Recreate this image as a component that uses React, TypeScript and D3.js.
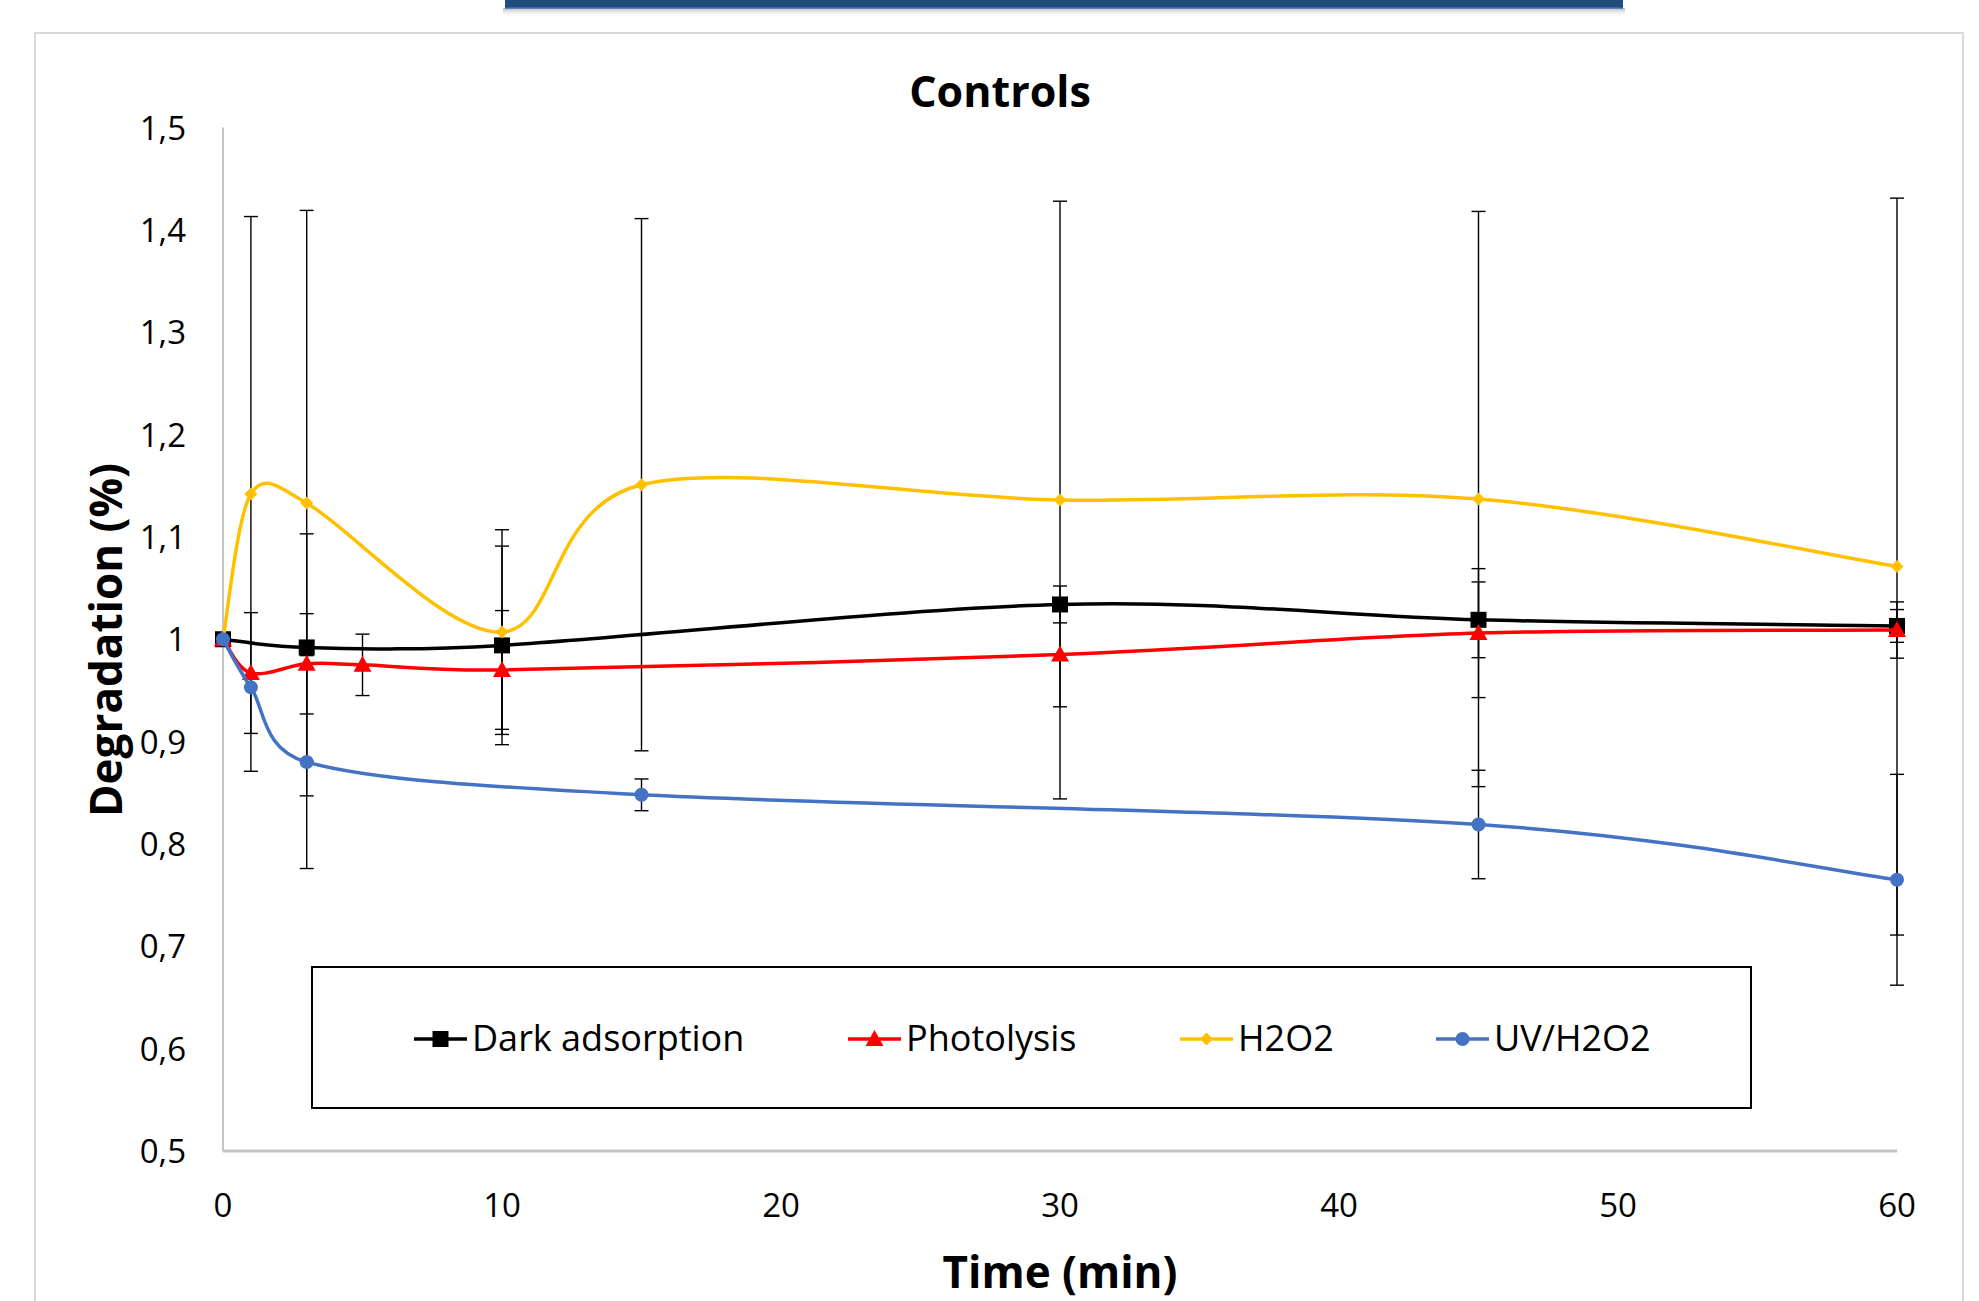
import React, { useEffect, useRef } from 'react';
import * as d3 from 'd3';

// axis ticks
const xTicks = [0, 10, 20, 30, 40, 50, 60];
const yTicks = [0.5, 0.6, 0.7, 0.8, 0.9, 1.0, 1.1, 1.2, 1.3, 1.4, 1.5];

// Dark adsorption
const darkTime = [0, 3, 10, 30, 45, 60];
const darkValue = [1.0, 0.992, 0.994, 1.034, 1.019, 1.013];
const darkError = [0, 0.111, 0.097, 0.018, 0.037, 0.016];

// Photolysis
const photoTime = [0, 1, 3, 5, 10, 30, 45, 60];
const photoValue = [1.0, 0.967, 0.976, 0.975, 0.97, 0.985, 1.006, 1.009];
const photoError = [0, 0.059, 0.049, 0.03, 0.058, 0.051, 0.063, 0.0275];

// H2O2
const h2o2Time = [0, 1, 3, 10, 15, 30, 45, 60];
const h2o2Value = [1.0, 1.142, 1.133, 1.007, 1.151, 1.136, 1.137, 1.071];
const h2o2Error = [0, 0.271, 0.286, 0.1, 0.26, 0.292, 0.281, 0.36];

// UV/H2O2
const uvTime = [0, 1, 3, 15, 45, 60];
const uvValue = [1.0, 0.953, 0.88, 0.848, 0.819, 0.765];
const uvError = [0, 0, 0.104, 0.0155, 0.053, 0.103];

const seriesNames = ['Dark adsorption', 'Photolysis', 'H2O2', 'UV/H2O2'];
const seriesColors = ['#000000', '#ff0000', '#ffc000', '#4472c4'];

// Excel-like smoothed line: bezier with 1/6 tangents, handles capped to half the chord
const smoothPath = (pts) => {
  const p = d3.path();
  p.moveTo(pts[0][0], pts[0][1]);
  const clamp = (v, lim) => {
    const len = Math.hypot(v[0], v[1]);
    return len > lim ? [(v[0] * lim) / len, (v[1] * lim) / len] : v;
  };
  for (let i = 0; i < pts.length - 1; i++) {
    const p0 = pts[i - 1] || pts[i];
    const p1 = pts[i];
    const p2 = pts[i + 1];
    const p3 = pts[i + 2] || pts[i + 1];
    const lim = Math.hypot(p2[0] - p1[0], p2[1] - p1[1]) * 0.5;
    const t1 = clamp([(p2[0] - p0[0]) / 6, (p2[1] - p0[1]) / 6], lim);
    const t2 = clamp([(p3[0] - p1[0]) / 6, (p3[1] - p1[1]) / 6], lim);
    p.bezierCurveTo(p1[0] + t1[0], p1[1] + t1[1], p2[0] - t2[0], p2[1] - t2[1], p2[0], p2[1]);
  }
  return p.toString();
};

const App = () => {
  const svgRef = useRef(null);

  useEffect(() => {
    const width = 1979;
    const height = 1301;
    const font = '"Open Sans", "Liberation Sans", sans-serif';

    const x = d3.scaleLinear().domain([0, 60]).range([223, 1897]);
    const y = d3.scaleLinear().domain([0.5, 1.5]).range([1151, 127.5]);

    const locale = d3.formatLocale({ decimal: ',', thousands: '.', grouping: [3], currency: ['', ''] });
    const fmt = locale.format('~g');

    const series = [
      { time: darkTime, value: darkValue, error: darkError, shape: 'square' },
      { time: photoTime, value: photoValue, error: photoError, shape: 'triangle' },
      { time: h2o2Time, value: h2o2Value, error: h2o2Error, shape: 'diamond' },
      { time: uvTime, value: uvValue, error: uvError, shape: 'circle' },
    ].map((s, i) => ({
      ...s,
      name: seriesNames[i],
      color: seriesColors[i],
      points: s.time.map((t, j) => ({ t, v: s.value[j], e: s.error[j] })),
    }));

    const svg = d3.select(svgRef.current);
    svg.selectAll('*').remove();
    svg.attr('width', width).attr('height', height);

    svg.append('rect').attr('width', width).attr('height', height).attr('fill', '#fff');

    // header strip at the very top with a soft shadow
    const defs = svg.append('defs');
    const grad = defs.append('linearGradient').attr('id', 'shadow').attr('x1', 0).attr('y1', 0).attr('x2', 0).attr('y2', 1);
    grad.append('stop').attr('offset', 0).attr('stop-color', '#9a9a9a').attr('stop-opacity', 0.7);
    grad.append('stop').attr('offset', 1).attr('stop-color', '#ffffff').attr('stop-opacity', 0);
    svg.append('rect').attr('x', 503).attr('y', 8).attr('width', 1122).attr('height', 9).attr('fill', 'url(#shadow)');
    svg.append('rect').attr('x', 505).attr('y', -2).attr('width', 1118).attr('height', 10).attr('fill', '#214a7d');
    svg.append('line').attr('x1', 505).attr('x2', 1623).attr('y1', 8).attr('y2', 8).attr('stroke', '#3f6fae').attr('stroke-width', 1.5);

    // chart area frame
    svg.append('rect')
      .attr('x', 35).attr('y', 33)
      .attr('width', 1928).attr('height', 1320)
      .attr('fill', 'none')
      .attr('stroke', '#d9d9d9')
      .attr('stroke-width', 2);

    // title
    svg.append('text')
      .attr('x', 1000).attr('y', 107)
      .attr('text-anchor', 'middle')
      .attr('font-family', font).attr('font-weight', 700).attr('font-size', 43)
      .text('Controls');

    // axes lines
    svg.append('line')
      .attr('x1', x(0)).attr('x2', x(0))
      .attr('y1', y(1.5)).attr('y2', y(0.5))
      .attr('stroke', '#c4c4c4').attr('stroke-width', 2);
    svg.append('line')
      .attr('x1', x(0)).attr('x2', x(60))
      .attr('y1', y(0.5)).attr('y2', y(0.5))
      .attr('stroke', '#c4c4c4').attr('stroke-width', 3);

    // y tick labels
    svg.append('g').selectAll('text')
      .data(yTicks)
      .enter()
      .append('text')
      .attr('x', 186)
      .attr('y', (d) => y(d) + 12)
      .attr('text-anchor', 'end')
      .attr('font-family', font).attr('font-size', 33)
      .attr('fill', '#000')
      .text((d) => fmt(d));

    // x tick labels
    svg.append('g').selectAll('text')
      .data(xTicks)
      .enter()
      .append('text')
      .attr('x', (d) => x(d))
      .attr('y', 1217)
      .attr('text-anchor', 'middle')
      .attr('font-family', font).attr('font-size', 33)
      .text((d) => fmt(d));

    // axis titles
    svg.append('text')
      .attr('x', (x(0) + x(60)) / 2).attr('y', 1288)
      .attr('text-anchor', 'middle')
      .attr('font-family', font).attr('font-weight', 700).attr('font-size', 44)
      .text('Time (min)');
    svg.append('text')
      .attr('transform', `translate(122,640) rotate(-90)`)
      .attr('text-anchor', 'middle')
      .attr('font-family', font).attr('font-weight', 700).attr('font-size', 44)
      .text('Degradation (%)');

    // legend box (drawn under the data, like the original)
    svg.append('rect')
      .attr('x', 312).attr('y', 967)
      .attr('width', 1439).attr('height', 141)
      .attr('fill', '#fff')
      .attr('stroke', '#000').attr('stroke-width', 2);

    // error bars
    const errG = svg.append('g');
    series.forEach((s) => {
      s.points.filter((p) => p.e > 0).forEach((p) => {
        const cx = x(p.t);
        const y1 = y(p.v + p.e);
        const y2 = y(p.v - p.e);
        errG.append('line').attr('x1', cx).attr('x2', cx).attr('y1', y1).attr('y2', y2)
          .attr('stroke', '#000').attr('stroke-width', 1.4);
        [y1, y2].forEach((yy) => {
          errG.append('line').attr('x1', cx - 7).attr('x2', cx + 7).attr('y1', yy).attr('y2', yy)
            .attr('stroke', '#000').attr('stroke-width', 1.4);
        });
      });
    });

    const marker = (g, shape, color, cx, cy) => {
      if (shape === 'square') {
        g.append('rect').attr('x', cx - 8).attr('y', cy - 8).attr('width', 16).attr('height', 16).attr('fill', color);
      } else if (shape === 'triangle') {
        g.append('path').attr('d', `M${cx},${cy - 9}L${cx + 9},${cy + 7}L${cx - 9},${cy + 7}Z`).attr('fill', color);
      } else if (shape === 'diamond') {
        g.append('path').attr('d', `M${cx},${cy - 6.5}L${cx + 6.5},${cy}L${cx},${cy + 6.5}L${cx - 6.5},${cy}Z`).attr('fill', color);
      } else {
        g.append('circle').attr('cx', cx).attr('cy', cy).attr('r', 7).attr('fill', color);
      }
    };

    // smoothed lines and markers
    series.forEach((s) => {
      const g = svg.append('g');
      g.append('path')
        .attr('d', smoothPath(s.points.map((p) => [x(p.t), y(p.v)])))
        .attr('fill', 'none')
        .attr('stroke', s.color)
        .attr('stroke-width', 3.5);
      s.points.forEach((p) => marker(g, s.shape, s.color, x(p.t), y(p.v)));
    });

    // legend entries
    const legendX = [414, 848, 1180, 1436];
    const legendY = 1039;
    series.forEach((s, i) => {
      const g = svg.append('g');
      const lx = legendX[i];
      g.append('line').attr('x1', lx).attr('x2', lx + 53).attr('y1', legendY).attr('y2', legendY)
        .attr('stroke', s.color).attr('stroke-width', 3.5);
      marker(g, s.shape, s.color, lx + 26.5, legendY);
      g.append('text')
        .attr('x', lx + 58).attr('y', legendY + 12)
        .attr('font-family', font).attr('font-size', 36)
        .text(s.name);
    });
  }, []);

  return (
    <div style={{ position: 'absolute', left: 0, top: 0 }}>
      <svg ref={svgRef} style={{ display: 'block' }}></svg>
    </div>
  );
};

export default App;
